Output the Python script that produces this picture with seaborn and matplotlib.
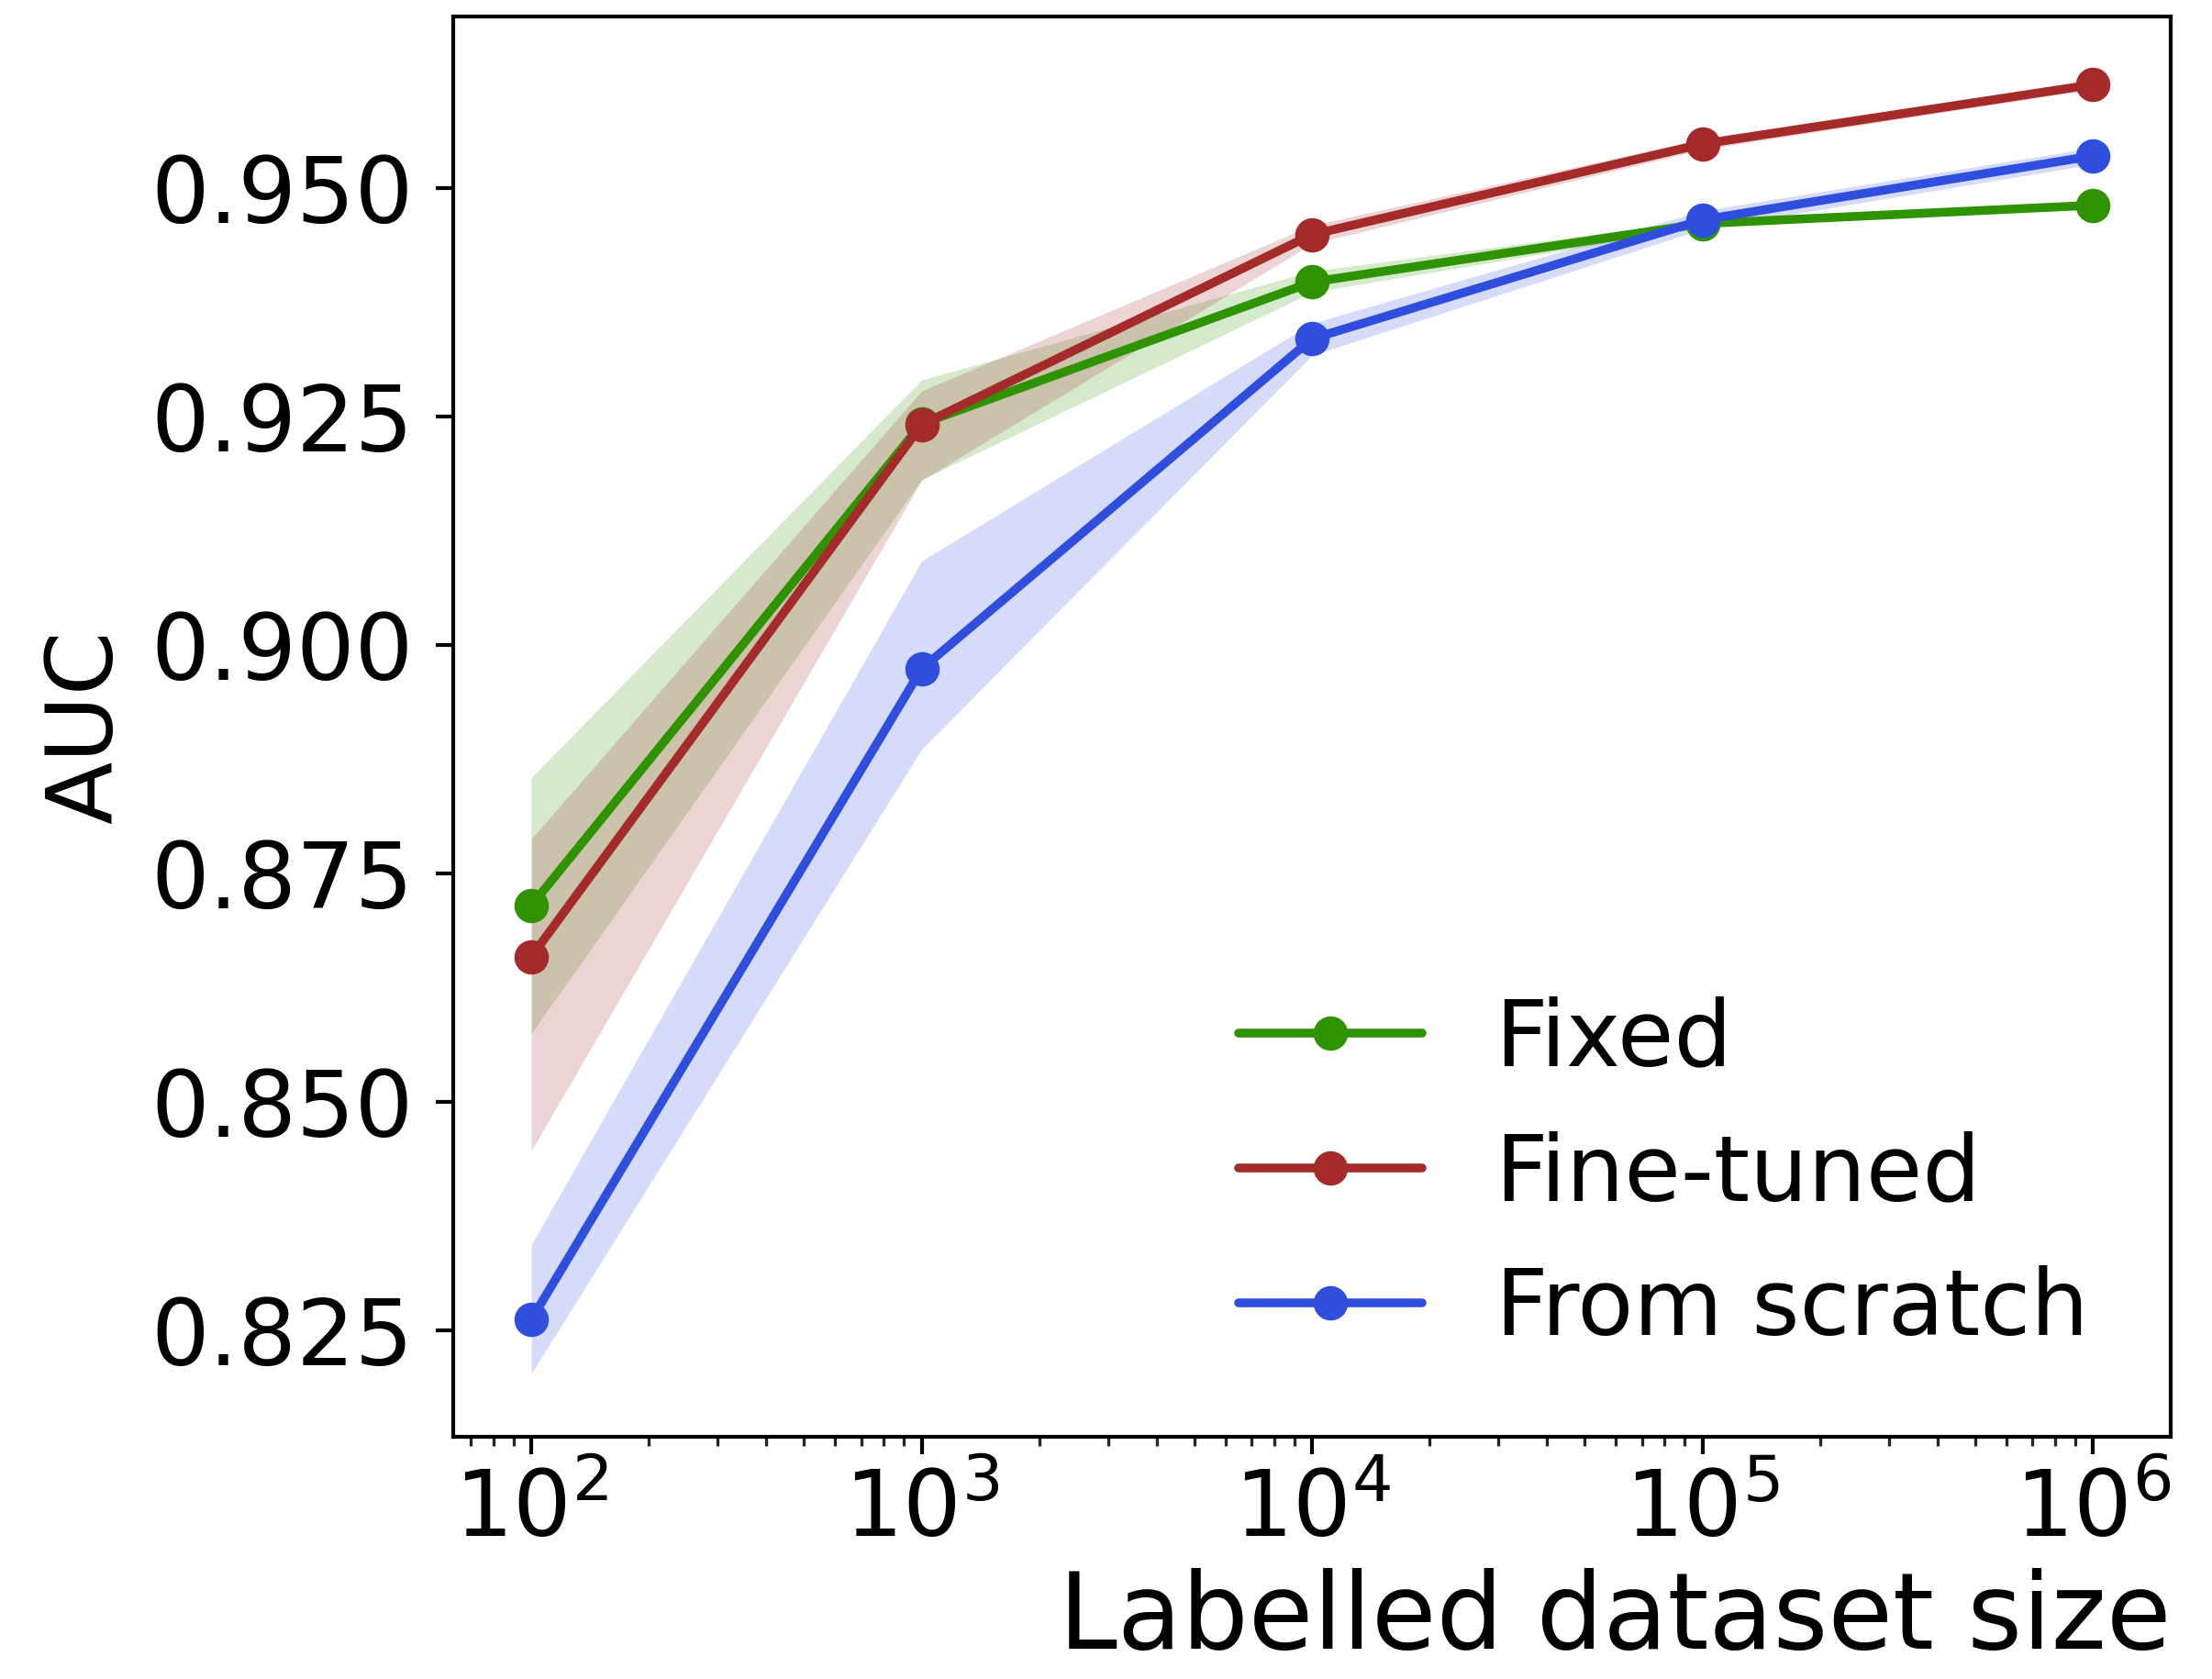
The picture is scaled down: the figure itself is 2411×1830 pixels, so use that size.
import numpy as np
import pandas as pd
import matplotlib
matplotlib.use("Agg")
import matplotlib.pyplot as plt
import seaborn as sns

# ---- data ----
sizes = [1e2, 1e3, 1e4, 1e5, 1e6]
series = ["Fixed", "Fine-tuned", "From scratch"]

fixed_mean = [0.8715, 0.9242, 0.9397, 0.9461, 0.9481]
fixed_low = [0.8575, 0.9181, 0.9386, 0.9457, 0.9478]
fixed_high = [0.8855, 0.9290, 0.9409, 0.9465, 0.9484]

fine_mean = [0.8659, 0.9241, 0.9449, 0.9548, 0.9613]
fine_low = [0.8447, 0.9180, 0.9439, 0.9542, 0.9608]
fine_high = [0.8788, 0.9278, 0.9459, 0.9554, 0.9618]

scratch_mean = [0.8262, 0.8974, 0.9335, 0.9465, 0.9535]
scratch_low = [0.8203, 0.8886, 0.9317, 0.9455, 0.9526]
scratch_high = [0.8344, 0.9092, 0.9352, 0.9475, 0.9544]

colors = ["#2f9300", "#a52a2a", "#2f4ede"]
yticks = [0.825, 0.850, 0.875, 0.900, 0.925, 0.950]

means = [fixed_mean, fine_mean, scratch_mean]
lows = [fixed_low, fine_low, scratch_low]
highs = [fixed_high, fine_high, scratch_high]

df = pd.DataFrame({
    "size": sizes * 3,
    "AUC": fixed_mean + fine_mean + scratch_mean,
    "method": [s for s in series for _ in sizes],
})

sns.set_theme(style="ticks")
plt.rcParams["font.family"] = ["DejaVu Sans"]
plt.rcParams["axes.linewidth"] = 1.0
plt.rcParams["xtick.major.size"] = 4.5
plt.rcParams["ytick.major.size"] = 4.5
plt.rcParams["xtick.minor.size"] = 2.5
plt.rcParams["xtick.major.width"] = 1.0
plt.rcParams["ytick.major.width"] = 1.0
plt.rcParams["xtick.minor.width"] = 0.8

fig = plt.figure(figsize=(8.04, 6.1), dpi=300)
ax = fig.add_axes([0.2048, 0.1443, 0.7762, 0.8456])

for name, c, lo, hi in zip(series, colors, lows, highs):
    ax.fill_between(sizes, lo, hi, color=c, alpha=0.2, linewidth=0)

sns.lineplot(data=df, x="size", y="AUC", hue="method", hue_order=series,
             palette=colors, marker="o", markersize=9, markeredgewidth=0,
             linewidth=2.3, ax=ax, errorbar=None)

ax.set_xscale("log")
ax.set_xlim(10**1.8, 10**6.2)
ax.set_ylim(0.8134, 0.9687)
ax.set_yticks(yticks)
ax.set_yticklabels([f"{v:.3f}" for v in yticks])
ax.tick_params(axis="both", labelsize=24, colors="black")
ax.tick_params(axis="y", pad=6)
for sp in ax.spines.values():
    sp.set_color("black")
    sp.set_visible(True)

ax.set_xlabel("Labelled dataset size", fontsize=27.5, loc="right", labelpad=3, color="black")
ax.set_ylabel("AUC", fontsize=24, labelpad=5, color="black")

leg = ax.legend(loc="lower right", frameon=False, fontsize=24)
for t in leg.get_texts():
    t.set_color("black")

fig.savefig("out.png", dpi=300)
